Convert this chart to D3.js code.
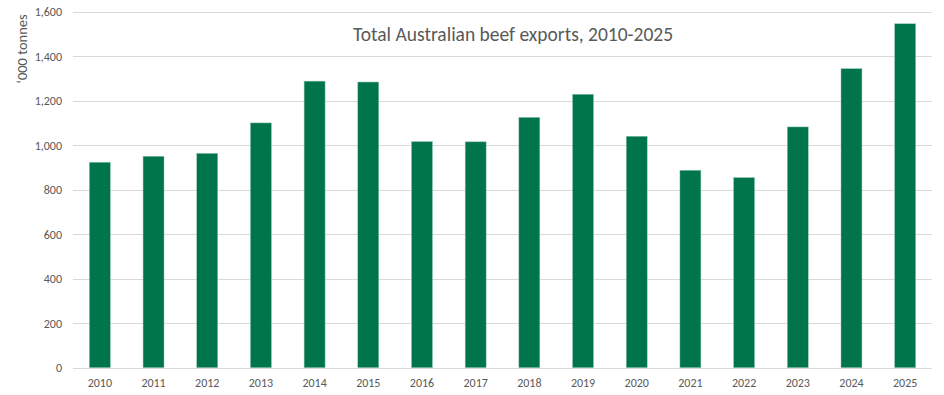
<!DOCTYPE html>
<html>
<head>
<meta charset="utf-8">
<script src="https://cdn.jsdelivr.net/npm/d3@7"></script>
<style>
  body { margin: 0; background: #fff; }
  #chart { width: 944px; height: 395px; }
  text { font-family: Carlito, 'Open Sans', 'Liberation Sans', sans-serif; fill: #595959; }
</style>
</head>
<body>
<div id="chart"></div>
<script>
// 数据
var years = ['2010', '2011', '2012', '2013', '2014', '2015', '2016', '2017',
  '2018', '2019', '2020', '2021', '2022', '2023', '2024', '2025']
var exports = [924, 951, 964, 1101, 1289, 1285, 1017, 1016,
  1126, 1230, 1041, 888, 855, 1083, 1345, 1547]
var yTicks = [0, 200, 400, 600, 800, 1000, 1200, 1400, 1600]
var title = 'Total Australian beef exports, 2010-2025'
var yLabel = '\u2018000 tonnes'

function drawChart() {
  var width = 944
  var height = 395
  var margin = { top: 12, right: 12, bottom: 27, left: 73 }
  var color = '#00744a'

  var svg = d3.select('#chart').append('svg').attr('width', width).attr('height', height)

  var x = d3.scaleBand()
    .domain(years)
    .range([margin.left, width - margin.right])
    .paddingInner(0.61)
    .paddingOuter(0.305)

  var y = d3.scaleLinear()
    .domain([0, 1600])
    .range([height - margin.bottom - 0.3, margin.top])

  // 网格线
  svg.append('g').selectAll('line').data(yTicks).enter().append('line')
    .attr('x1', margin.left)
    .attr('x2', width - margin.right)
    .attr('y1', function(d) { return Math.round(y(d)) + 0.5 })
    .attr('y2', function(d) { return Math.round(y(d)) + 0.5 })
    .attr('stroke', '#d9d9d9')
    .attr('stroke-width', 1)

  // 左侧y轴
  var axisLeft = d3.axisLeft(y).tickValues(yTicks).tickSize(0).tickPadding(11)
    .tickFormat(d3.format(','))
  var gy = svg.append('g').attr('transform', `translate(${margin.left}, 0)`).call(axisLeft)
  gy.select('.domain').remove()
  gy.selectAll('text').style('font-size', '12px').attr('fill', '#595959')

  // x轴
  var axisBottom = d3.axisBottom(x).tickSize(0).tickPadding(10)
  var gx = svg.append('g').attr('transform', `translate(0, ${height - margin.bottom})`).call(axisBottom)
  gx.select('.domain').remove()
  gx.selectAll('text').style('font-size', '12px').attr('fill', '#595959')

  // 柱子
  svg.append('g').selectAll('rect').data(exports).enter().append('rect')
    .attr('x', function(d, i) { return x(years[i]) })
    .attr('y', function(d) { return y(d) })
    .attr('width', x.bandwidth())
    .attr('height', function(d) { return y(0) - y(d) })
    .attr('fill', color)
    .attr('stroke', '#8cc5aa')
    .attr('stroke-width', 0.5)

  // 标题
  svg.append('text').text(title)
    .attr('x', 513)
    .attr('y', 41)
    .attr('text-anchor', 'middle')
    .style('font-size', '19.5px')

  // y轴标题
  svg.append('text').text(yLabel)
    .attr('transform', 'translate(27, 49) rotate(-90)')
    .attr('text-anchor', 'middle')
    .style('font-size', '14.5px')
}

drawChart()
</script>
</body>
</html>
